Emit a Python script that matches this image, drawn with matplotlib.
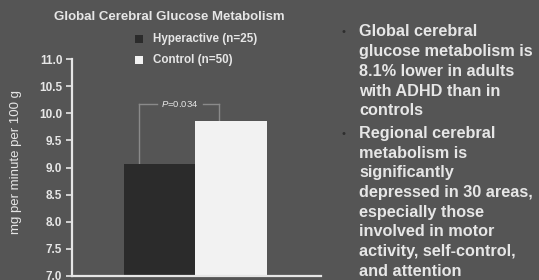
import matplotlib
matplotlib.use("Agg")
import matplotlib.pyplot as plt

groups = ["Hyperactive (n=25)", "Control (n=50)"]
values = [9.06, 9.86]
bar_colors = ["#2b2b2b", "#f2f2f2"]
yticks = [7.0, 7.5, 8.0, 8.5, 9.0, 9.5, 10.0, 10.5, 11.0]
p_text = "$P$=0.034"
title = "Global Cerebral Glucose Metabolism"
ylabel = "mg per minute per 100 g"
bullets = [
    "Global cerebral\nglucose metabolism is\n8.1% lower in adults\nwith ADHD than in\ncontrols",
    "Regional cerebral\nmetabolism is\nsignificantly\ndepressed in 30 areas,\nespecially those\ninvolved in motor\nactivity, self-control,\nand attention",
]

plt.rcParams['font.family'] = ['Liberation Sans', 'DejaVu Sans']
plt.rcParams['mathtext.fontset'] = 'custom'
plt.rcParams['mathtext.it'] = 'Liberation Sans:italic'
plt.rcParams['mathtext.rm'] = 'Liberation Sans'
bg = "#555555"
fg = "#e6e6e6"
W, H = 539, 280
fig = plt.figure(figsize=(W/100, H/100), dpi=100, facecolor=bg)
ax = fig.add_axes([72/W, 1-276/H, (321-72)/W, (276-59)/H], facecolor=bg)

xs = [0, 1]
ax.bar(xs, values, width=1.0, color=bar_colors, bottom=0, zorder=2)
ax.set_ylim(7.0, 11.0)
ax.set_xlim(-1.23, 2.26)
ax.set_yticks(yticks)
ax.set_yticklabels([f"{t:.1f}" for t in yticks], fontsize=8.5, fontweight='bold', color=fg)
ax.set_xticks([])
ax.tick_params(axis='y', colors=fg, length=4, width=1.2, pad=3, labelcolor=fg)
for s in ['top', 'right']:
    ax.spines[s].set_visible(False)
for s in ['left', 'bottom']:
    ax.spines[s].set_color(fg)
    ax.spines[s].set_linewidth(1.6)
fig.text(16/W, 1-162/H, ylabel, rotation=90, ha='center', va='center', fontsize=9.5, color=fg)

# significance bracket
ytop = 10.17
lc = "#8a8a8a"
ax.plot([-0.29, -0.29], [values[0], ytop], color=lc, lw=1, zorder=1)
ax.plot([0.83, 0.83], [values[1], ytop], color=lc, lw=1, zorder=1)
ax.plot([-0.29, -0.04], [ytop, ytop], color=lc, lw=1)
ax.plot([0.6, 0.83], [ytop, ytop], color=lc, lw=1)
ax.text(0.28, ytop, p_text, ha='center', va='center', fontsize=6.8, color=fg)

fig.text(169/W, 1-16.5/H, title, ha='center', va='center', fontsize=9.5, fontweight='bold', color=fg)

# legend
for i, (g, c) in enumerate(zip(groups, bar_colors)):
    y = 39 + i*21
    fig.patches.append(plt.Rectangle((135/W, 1-(y+4)/H), 8/W, 8/H, transform=fig.transFigure,
                                     facecolor=c, edgecolor='none', figure=fig))
    fig.text(153/W, 1-y/H, g, ha='left', va='center', fontsize=8.4, fontweight='bold', color=fg)

# bullets
y = 32
for b in bullets:
    lines = b.split("\n")
    fig.text(342/W, 1-y/H, "\u2022", ha='left', va='center', fontsize=8, color="#2e2e2e")
    for ln in lines:
        fig.text(359/W, 1-y/H, ln, ha='left', va='center', fontsize=11.7, fontweight='bold', color=fg)
        y += 19.7
    y += 3

fig.savefig("out.png", dpi=100, facecolor=bg)
